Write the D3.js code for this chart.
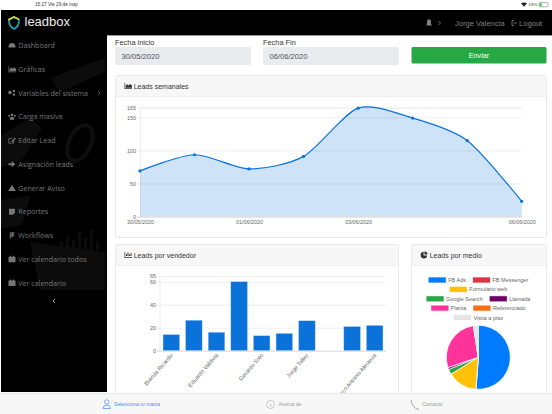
<!DOCTYPE html>
<html>
<head>
<meta charset="utf-8">
<script src="https://cdn.jsdelivr.net/npm/d3@7"></script>
<style>
html, body { margin: 0; padding: 0; background: #fff; overflow: hidden; }
svg { display: block; }
text { font-family: "Liberation Sans", sans-serif; }
.menu text { font-family: "Open Sans", sans-serif; }
</style>
</head>
<body>
<svg id="page" width="552" height="414"></svg>
<script>
// Chart data
const dias = ['30/05/2020', '31/05/2020', '01/06/2020', '02/06/2020', '03/06/2020', '04/06/2020', '05/06/2020', '06/06/2020']
const leadsSemana = [69, 93.5, 72, 91, 164, 149, 115, 23]
const diasVisibles = ['30/05/2020', '01/06/2020', '03/06/2020', '06/06/2020']
const ticksSemana = [0, 50, 100, 150, 165]

// only every other name can be read in the picture, v2.. are stand-ins
const vendedores = ['Brenda Ricardiz', 'v2', 'Eduardo Valdivia', 'v4', 'Gerardo Soto', 'v6', 'Jorge Tellez', 'v8', 'v9', 'Marco Antonio Almanza']
const leadsVendedor = [14, 26.5, 16, 60, 13, 15, 26, 0, 21, 22]
const vendedoresVisibles = ['Brenda Ricardiz', 'Eduardo Valdivia', 'Gerardo Soto', 'Jorge Tellez', 'Marco Antonio Almanza']
const ticksVendedor = [0, 20, 40, 60, 65]

const medios = ['FB Ads', 'FB Messenger', 'Formulario web', 'Google Search', 'Llamada', 'Planta', 'Referenciado', 'Visita a piso']
const leadsMedio = [51.2, 0, 15, 2.6, 1, 27.8, 0, 2.4]
const coloresMedio = ['#007bff', '#dc3545', '#ffc107', '#28a745', '#6f0066', '#ff3399', '#fd6a13', '#e5e5e5']
const filasLeyenda = [[0, 1], [2], [3, 4], [5, 6], [7]]

const menu = ['Dashboard', 'Gráficas', 'Variables del sistema', 'Carga masiva', 'Editar Lead', 'Asignación leads', 'Generar Aviso', 'Reportes', 'Workflows', 'Ver calendario todos', 'Ver calendario']

// Small icons, 8x7 box around 0,0
const calendario = 'M-3.5 -2.5h7v5.5h-7z M-2 -3.5h1v1h-1z M1 -3.5h1v1h-1z'
const barras = 'M-3.5 -3v6h7.5v-.7h-6.8v-5.3z M-2 -1h1v2h-1z M-.5 -2.5h1v3.5h-1z M1 -.5h1v1.5h-1z M2.5 -2h1v3h-1z'
const area = 'M-3.5 -3v6h7.5v-.7h-6.8v-5.3z M-2.3 1.8v-2l1.5 -1.5 1.5 1.2 1.3 -1.6 2 1.6v2.3z'
const iconosMenu = [
  'M-3.5 2a3.6 3.6 0 1 1 7 0z',
  area,
  'M-3.8 -.5a1.8 1.8 0 1 1 3.6 0a1.8 1.8 0 1 1 -3.6 0z M.8 -2a1.2 1.2 0 1 1 2.4 0a1.2 1.2 0 1 1 -2.4 0z M.8 1.5a1.2 1.2 0 1 1 2.4 0a1.2 1.2 0 1 1 -2.4 0z',
  'M-1.3 -2a1.3 1.3 0 1 1 2.6 0a1.3 1.3 0 1 1 -2.6 0z M-2.2 3v-1.5a2.2 1.5 0 0 1 4.4 0v1.5z M-3.8 -1a1 1 0 1 1 2 0a1 1 0 1 1 -2 0z M1.8 -1a1 1 0 1 1 2 0a1 1 0 1 1 -2 0z',
  'M-3.5 -2.3h3.6v.8h-2.8v3.8h3.8v-2.3h.8v3.1h-5.4z M-.6 .7l3.4 -3.6 1 1 -3.4 3.5h-1z',
  'M-3.5 -.9h3.2v-2.1l3.8 3 -3.8 3v-2.1h-3.2z',
  'M0 -3.3l3.8 6.3h-7.6z',
  'M-3 -3h6v4l-2 2h-4z',
  'M-2.2 -3.2h1v6.2h-1z M-.6 -3.2h3.2l-1.4 2.2 1.2 .8 -3 2.4z',
  calendario,
  calendario
]
const iconosCard = [area, barras, 'M-.4 -3.2a3.3 3.3 0 1 0 3.6 3.6h-3.6z M.4 -3.6a3.3 3.3 0 0 1 3.2 3.2h-3.2z']

const svg = d3.select('#page')
const azul = '#0b72d9'

function txt(parent, x, y, s, size, color, anchor) {
  return parent.append('text').attr('x', x).attr('y', y).attr('font-size', size)
    .attr('fill', color).attr('text-anchor', anchor || 'start').text(s)
}

// Status bar
txt(svg, 35, 6.3, '15:27  Vie 29 de may', 4.7, '#333')
txt(svg, 528.5, 6.3, '19%', 4.4, '#333')
svg.append('path').attr('d', 'M521 3.2 Q524 1.6 527 3.2 L524 6.8 Z').attr('fill', '#222')
svg.append('rect').attr('x', 539).attr('y', 2.6).attr('width', 9).attr('height', 4.2).attr('rx', 1).attr('fill', 'none').attr('stroke', '#666').attr('stroke-width', 0.5)
svg.append('rect').attr('x', 539.6).attr('y', 3.2).attr('width', 2).attr('height', 3).attr('fill', '#3ac24a')

// Sidebar + header
svg.append('rect').attr('x', 1).attr('y', 10).attr('width', 106).attr('height', 382).attr('fill', '#000')
const fondo = svg.append('g').attr('fill', '#0c0c0c')
fondo.append('path').attr('d', 'M50 78 L105 58 L105 72 L60 92 Z')
fondo.append('path').attr('d', 'M1 135 L30 118 L42 128 L22 160 L1 168 Z')
fondo.append('path').attr('d', 'M1 200 L30 196 L22 225 L1 228 Z')
fondo.append('path').attr('d', 'M30 242 L105 252 L105 290 L40 290 Z')
fondo.append('path').attr('d', 'M60 250 v-8 h3 v8 z M66 250 v-14 h3 v14 z M72 250 v-10 h3 v10 z M78 250 v-18 h3 v18 z M84 250 v-12 h3 v12 z M90 250 v-20 h3 v20 z M96 250 v-9 h3 v9 z')
svg.append('ellipse').attr('cx', 80).attr('cy', 143).attr('rx', 11).attr('ry', 19)
  .attr('transform', 'rotate(25 80 143)').attr('fill', 'none').attr('stroke', '#0e0e0e').attr('stroke-width', 4)
svg.append('rect').attr('x', 1).attr('y', 10).attr('width', 551).attr('height', 25).attr('fill', '#000')
svg.append('rect').attr('x', 107).attr('y', 35).attr('width', 445).attr('height', 1).attr('fill', '#999')

// Logo
svg.append('path').attr('d', 'M14 17 L19 19.5 Q19.5 26 14 29 Q8.5 26 9 19.5 Z').attr('fill', 'none').attr('stroke', '#19a0b5').attr('stroke-width', 1.7)
svg.append('path').attr('d', 'M9 20.5 L9 19.5 L14 17 L19 19.5').attr('fill', 'none').attr('stroke', '#cfd92e').attr('stroke-width', 1.7)
txt(svg, 24.5, 26.3, 'leadbox', 13, '#eee').attr('font-family', '"Open Sans", sans-serif')

// Top right
const claro = '#808080'
svg.append('path').attr('d', 'M426 25.5 L432 25.5 L431 24 L431 21.5 A2 2.2 0 0 0 427 21.5 L427 24 Z').attr('fill', claro)
svg.append('path').attr('d', 'M438.5 21 L440.5 23 L438.5 25').attr('fill', 'none').attr('stroke', claro).attr('stroke-width', 0.8)
txt(svg, 455, 25.6, 'Jorge Valencia', 7.6, claro)
svg.append('path').attr('d', 'M514 20.5 L512 20.5 L512 25.5 L514 25.5 M513.5 23 L517 23').attr('fill', 'none').attr('stroke', claro).attr('stroke-width', 0.8)
txt(svg, 519, 25.6, 'Logout', 7.6, claro)

// Menu
const yMenu = d3.scalePoint().domain(menu).range([45.5, 283])
const itemMenu = svg.append('g').attr('class', 'menu').selectAll('g').data(menu).join('g')
  .attr('transform', d => `translate(0,${yMenu(d)})`)
itemMenu.append('path').attr('transform', 'translate(12,0)').attr('d', (d, i) => iconosMenu[i]).attr('fill', '#777')
itemMenu.append('text').attr('x', 18.3).attr('y', 2.6).attr('font-size', 7.1).attr('fill', '#777').text(d => d)
svg.append('path').attr('d', 'M55 299 L53 301 L55 303').attr('fill', 'none').attr('stroke', '#bbb').attr('stroke-width', 0.9)
svg.append('path').attr('d', 'M98 91 L100 93 L98 95').attr('fill', 'none').attr('stroke', '#777').attr('stroke-width', 0.7)

// Form
const gris = '#495057'
txt(svg, 115, 45, 'Fecha inicio', 7.4, '#333')
txt(svg, 263, 45, 'Fecha Fin', 7.4, '#333')
svg.append('rect').attr('x', 115).attr('y', 47).attr('width', 136).attr('height', 18).attr('rx', 2).attr('fill', '#e9ecef')
svg.append('rect').attr('x', 263).attr('y', 47).attr('width', 136).attr('height', 18).attr('rx', 2).attr('fill', '#e9ecef')
txt(svg, 121.5, 59, '30/05/2020', 7.6, gris)
txt(svg, 269.5, 59, '06/06/2020', 7.6, gris)
svg.append('rect').attr('x', 411.5).attr('y', 47).attr('width', 135).attr('height', 16.5).attr('rx', 1.5).attr('fill', '#28a745')
txt(svg, 479, 58, 'Enviar', 7.2, '#fff', 'middle')

// Cards
function card(x, y, w, h, titulo, icono) {
  const g = svg.append('g')
  g.append('rect').attr('x', x + 0.5).attr('y', y + 0.5).attr('width', w).attr('height', h).attr('rx', 2).attr('fill', '#fff').attr('stroke', '#e9e9e9')
  g.append('rect').attr('x', x + 1).attr('y', y + 1).attr('width', w - 1).attr('height', 20).attr('fill', '#f7f7f7')
  g.append('rect').attr('x', x + 1).attr('y', y + 21).attr('width', w - 1).attr('height', 0.8).attr('fill', '#ebebeb')
  g.append('path').attr('transform', `translate(${x + 13},${y + 11})`).attr('d', icono).attr('fill', '#333')
  txt(g, x + 18.7, y + 13.6, titulo, 7, '#333')
}
card(115, 75, 431, 162, 'Leads semanales', iconosCard[0])
card(115, 244, 283, 160, 'Leads por vendedor', iconosCard[1])
card(411, 244, 135, 160, 'Leads por medio', iconosCard[2])

// Line chart
const xLinea = d3.scalePoint().domain(dias).range([140, 521.7])
const yLinea = d3.scaleLinear().domain([0, 165]).range([216.5, 107.5])
const curva = d3.curveCardinal.tension(0.2)

const ejeYLinea = svg.append('g').attr('transform', 'translate(140,0)')
  .call(d3.axisLeft(yLinea).tickValues(ticksSemana).tickSize(3).tickPadding(1))
const ejeXLinea = svg.append('g').attr('transform', 'translate(0,217)')
  .call(d3.axisBottom(xLinea).tickValues(diasVisibles).tickSize(0).tickPadding(3))
svg.append('g').attr('transform', 'translate(140,0)')
  .call(d3.axisLeft(yLinea).tickValues(ticksSemana).tickSize(-381.7).tickFormat(''))
  .call(g => g.selectAll('line').attr('stroke', '#eee'))
  .call(g => g.select('.domain').attr('stroke', '#eee'))

svg.append('path').datum(leadsSemana)
  .attr('d', d3.area().x((d, i) => xLinea(dias[i])).y0(yLinea(0)).y1(d => yLinea(d)).curve(curva))
  .attr('fill', 'rgba(11,114,217,0.2)')
svg.append('path').datum(leadsSemana)
  .attr('d', d3.line().x((d, i) => xLinea(dias[i])).y(d => yLinea(d)).curve(curva))
  .attr('fill', 'none').attr('stroke', azul).attr('stroke-width', 1.2)
svg.append('g').selectAll('circle').data(leadsSemana).join('circle')
  .attr('cx', (d, i) => xLinea(dias[i])).attr('cy', d => yLinea(d)).attr('r', 1.6).attr('fill', azul)
svg.append('rect').attr('x', 137).attr('y', 216.5).attr('width', 384.7).attr('height', 1).attr('fill', '#d9d9d9')

// Bar chart
const xBarra = d3.scaleBand().domain(vendedores).range([160, 386]).paddingInner(0.27).paddingOuter(0.135)
const yBarra = d3.scaleLinear().domain([0, 65]).range([350.7, 276])

svg.append('g').attr('transform', 'translate(160,0)')
  .call(d3.axisLeft(yBarra).tickValues(ticksVendedor).tickSize(-226).tickFormat(''))
  .call(g => g.selectAll('line').attr('stroke', '#eee'))
  .call(g => g.select('.domain').remove())
svg.append('line').attr('x1', 160).attr('x2', 160).attr('y1', 276).attr('y2', 351).attr('stroke', '#eee')
const ejeYBarra = svg.append('g').attr('transform', 'translate(160,0)')
  .call(d3.axisLeft(yBarra).tickValues(ticksVendedor).tickSize(3).tickPadding(1))

svg.append('g').selectAll('rect').data(leadsVendedor).join('rect')
  .attr('x', (d, i) => xBarra(vendedores[i]))
  .attr('y', d => yBarra(d))
  .attr('width', xBarra.bandwidth())
  .attr('height', d => yBarra(0) - yBarra(d))
  .attr('fill', azul)
  .attr('stroke', '#a9cdf2').attr('stroke-width', 0.4)
svg.append('rect').attr('x', 157).attr('y', 350.7).attr('width', 229).attr('height', 1).attr('fill', '#ddd')

svg.append('g').selectAll('text').data(vendedoresVisibles).join('text')
  .attr('transform', d => `translate(${xBarra(d) + xBarra.bandwidth() / 2 + 2},355.5) rotate(-49)`)
  .attr('text-anchor', 'end').attr('font-size', 5.7).attr('fill', '#666').text(d => d)

for (const eje of [ejeYLinea, ejeXLinea, ejeYBarra]) {
  eje.select('.domain').remove()
  eje.selectAll('line').attr('stroke', '#eee')
  eje.selectAll('text').attr('font-size', 5.4).attr('fill', '#666').attr('font-family', '"Liberation Sans", sans-serif')
}

// Pie chart
const pie = d3.pie().sort(null)(leadsMedio)
const arco = d3.arc().innerRadius(0).outerRadius(32)
svg.append('g').attr('transform', 'translate(478.3,357.3)')
  .selectAll('path').data(pie).join('path')
  .attr('d', arco).attr('fill', (d, i) => coloresMedio[i])
  .attr('stroke', '#fff').attr('stroke-width', 0.7)

// Legend, centred row by row
const yFila = d3.scalePoint().domain(d3.range(filasLeyenda.length)).range([280, 317.5])
filasLeyenda.forEach((fila, f) => {
  const g = svg.append('g')
  let x = 0
  fila.forEach(m => {
    g.append('rect').attr('x', x).attr('y', yFila(f) - 2.5).attr('width', 17).attr('height', 5)
      .attr('fill', coloresMedio[m]).attr('stroke', d3.color(coloresMedio[m]).copy({opacity: 0.3}))
    const t = txt(g, x + 19.5, yFila(f) + 2, medios[m], 5.5, '#666')
    x += 19.5 + t.node().getComputedTextLength() + 7
  })
  g.attr('transform', `translate(${478.5 - (x - 7) / 2},0)`)
})

// Bottom bar
svg.append('rect').attr('x', 0).attr('y', 393).attr('width', 552).attr('height', 21).attr('fill', '#f7f7f7')
svg.append('rect').attr('x', 0).attr('y', 393).attr('width', 552).attr('height', 0.6).attr('fill', '#ddd')
svg.append('circle').attr('cx', 106.7).attr('cy', 402).attr('r', 2.2).attr('fill', 'none').attr('stroke', '#3d8ff5').attr('stroke-width', 0.7)
svg.append('path').attr('d', 'M103 408.5 Q103 405 106.7 405 Q110.4 405 110.4 408.5 Z').attr('fill', 'none').attr('stroke', '#3d8ff5').attr('stroke-width', 0.7)
txt(svg, 114, 406, 'Selecciona tu marca', 5.1, '#3d8ff5')
svg.append('circle').attr('cx', 270.5).attr('cy', 404.5).attr('r', 4).attr('fill', 'none').attr('stroke', '#999').attr('stroke-width', 0.5)
txt(svg, 270.5, 406.5, 'i', 5, '#999', 'middle')
txt(svg, 278.5, 406, 'Acerca de', 5.1, '#999')
svg.append('path').attr('d', 'M411 400 Q412 408 419 409.5').attr('fill', 'none').attr('stroke', '#aaa').attr('stroke-width', 1)
txt(svg, 422, 406, 'Contacto', 5.1, '#999')
</script>
</body>
</html>
